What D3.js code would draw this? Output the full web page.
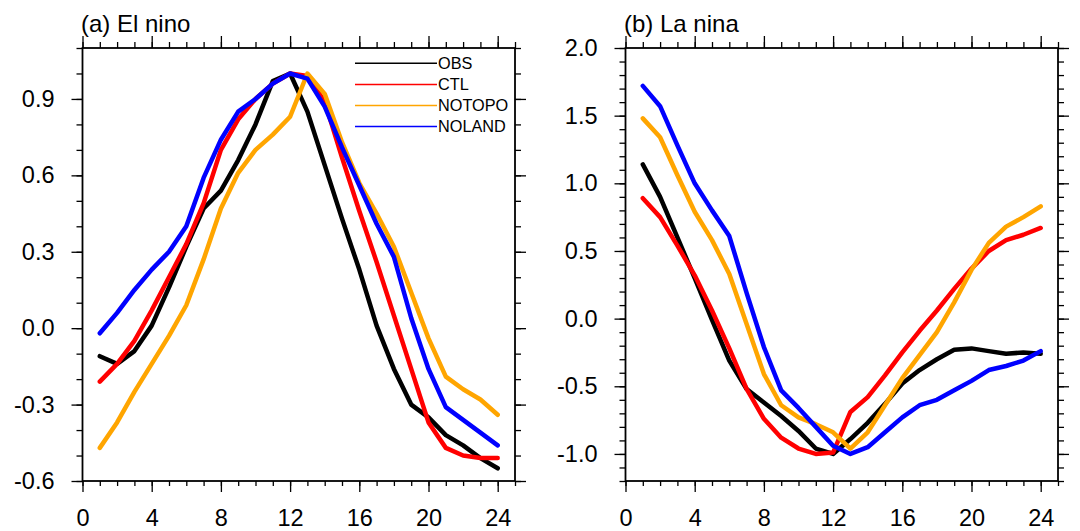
<!DOCTYPE html>
<html>
<head>
<meta charset="utf-8">
<script src="https://cdn.jsdelivr.net/npm/d3@7"></script>
<style>
  html, body { margin: 0; padding: 0; background: #fff; }
  svg { display: block; font-family: "Liberation Sans", Arial, Helvetica, sans-serif; }
</style>
</head>
<body>
<div id="chart"></div>
<script>
// months along the x axis
var months = [1,2,3,4,5,6,7,8,9,10,11,12,13,14,15,16,17,18,19,20,21,22,23,24];

// (a) El nino
var ninoObs    = [-0.11,-0.14,-0.09,0.01,0.16,0.32,0.47,0.54,0.66,0.80,0.97,1.00,0.85,0.64,0.43,0.23,0.01,-0.16,-0.30,-0.35,-0.42,-0.46,-0.51,-0.55];
var ninoCtl    = [-0.21,-0.14,-0.05,0.07,0.20,0.33,0.49,0.70,0.82,0.90,0.96,1.00,0.99,0.89,0.67,0.46,0.26,0.05,-0.16,-0.37,-0.47,-0.50,-0.51,-0.51];
var ninoNotopo = [-0.47,-0.37,-0.25,-0.14,-0.03,0.09,0.27,0.47,0.61,0.70,0.76,0.83,1.00,0.92,0.73,0.57,0.45,0.32,0.14,-0.04,-0.19,-0.24,-0.28,-0.34];
var ninoNoland = [-0.02,0.06,0.15,0.23,0.30,0.40,0.59,0.74,0.85,0.90,0.96,1.00,0.98,0.87,0.71,0.56,0.41,0.28,0.04,-0.16,-0.31,-0.36,-0.41,-0.46];

// (b) La nina
var ninaObs    = [1.14,0.90,0.60,0.30,-0.01,-0.31,-0.52,-0.62,-0.72,-0.83,-0.96,-1.00,-0.89,-0.77,-0.63,-0.48,-0.38,-0.30,-0.23,-0.22,-0.24,-0.26,-0.25,-0.26];
var ninaCtl    = [0.89,0.75,0.54,0.32,0.06,-0.22,-0.52,-0.74,-0.88,-0.96,-1.00,-0.99,-0.69,-0.58,-0.42,-0.25,-0.09,0.06,0.22,0.37,0.50,0.58,0.62,0.67];
var ninaNotopo = [1.48,1.34,1.06,0.79,0.58,0.33,-0.04,-0.41,-0.64,-0.73,-0.78,-0.84,-0.96,-0.84,-0.64,-0.44,-0.27,-0.10,0.12,0.36,0.56,0.68,0.75,0.83];
var ninaNoland = [1.72,1.57,1.28,1.00,0.80,0.61,0.19,-0.21,-0.53,-0.66,-0.80,-0.94,-1.00,-0.95,-0.84,-0.73,-0.64,-0.60,-0.53,-0.46,-0.38,-0.35,-0.31,-0.24];

var seriesNames  = ["OBS", "CTL", "NOTOPO", "NOLAND"];
var seriesColors = ["#000000", "#ff0000", "#ffa500", "#0000ff"];

// tick labels
var xTicks = [0, 4, 8, 12, 16, 20, 24];
var xLabels = ["0", "4", "8", "12", "16", "20", "24"];
var aTicks = [-0.6, -0.3, 0.0, 0.3, 0.6, 0.9];
var aLabels = ["-0.6", "-0.3", "0.0", "0.3", "0.6", "0.9"];
var bTicks = [-1.0, -0.5, 0.0, 0.5, 1.0, 1.5, 2.0];
var bLabels = ["-1.0", "-0.5", "0.0", "0.5", "1.0", "1.5", "2.0"];

var width = 1080, height = 531;

var svg = d3.select("#chart")
  .append("svg")
  .attr("width", width)
  .attr("height", height);

var panels = [
  { title: "(a) El nino", left: 82.5, yDomain: [-0.6, 1.1], ticks: aTicks, labels: aLabels,
    series: [ninoObs, ninoCtl, ninoNotopo, ninoNoland], legend: true },
  { title: "(b) La nina", left: 625.5, yDomain: [-1.2, 2.0], ticks: bTicks, labels: bLabels,
    series: [ninaObs, ninaCtl, ninaNotopo, ninaNoland], legend: false }
];

var plotTop = 48, plotBottom = 481, plotW = 432.5;

function range(a, b, step) {
  var out = [];
  for (var v = a; v <= b + 1e-9; v += step) out.push(Math.round(v * 10) / 10);
  return out;
}

panels.forEach(function(p) {
  var x = d3.scaleLinear().domain([0, 25]).range([p.left, p.left + plotW]);
  var y = d3.scaleLinear().domain(p.yDomain).range([plotBottom, plotTop]);

  var g = svg.append("g");

  var minorX = d3.range(0, 26);
  var minorY = range(p.yDomain[0], p.yDomain[1], 0.1);

  function styleAxis(sel) {
    sel.select(".domain").remove();
    sel.selectAll("line").attr("stroke", "#000").attr("stroke-width", 1.3);
    sel.selectAll("text").attr("font-size", 23.5).attr("fill", "#000")
      .attr("font-family", "Liberation Sans, Arial, sans-serif");
  }

  // minor ticks, all four sides
  g.append("g").attr("transform", "translate(0," + plotBottom + ")")
    .call(d3.axisBottom(x).tickValues(minorX).tickSize(5).tickFormat(""))
    .call(styleAxis);
  g.append("g").attr("transform", "translate(0," + plotTop + ")")
    .call(d3.axisTop(x).tickValues(minorX).tickSize(6).tickFormat(""))
    .call(styleAxis);
  g.append("g").attr("transform", "translate(" + x(0) + ",0)")
    .call(d3.axisLeft(y).tickValues(minorY).tickSize(6).tickFormat(""))
    .call(styleAxis);
  g.append("g").attr("transform", "translate(" + x(25) + ",0)")
    .call(d3.axisRight(y).tickValues(minorY).tickSize(6).tickFormat(""))
    .call(styleAxis);

  // major ticks
  g.append("g").attr("transform", "translate(0," + plotBottom + ")")
    .call(d3.axisBottom(x).tickValues(xTicks).tickSize(11).tickPadding(17)
      .tickFormat(function(d, i) { return xLabels[i]; }))
    .call(styleAxis);
  g.append("g").attr("transform", "translate(0," + plotTop + ")")
    .call(d3.axisTop(x).tickValues(xTicks).tickSize(12).tickFormat(""))
    .call(styleAxis);
  g.append("g").attr("transform", "translate(" + x(0) + ",0)")
    .call(d3.axisLeft(y).tickValues(p.ticks).tickSize(11).tickPadding(17)
      .tickFormat(function(d, i) { return p.labels[i]; }))
    .call(styleAxis);
  g.append("g").attr("transform", "translate(" + x(25) + ",0)")
    .call(d3.axisRight(y).tickValues(p.ticks).tickSize(11).tickFormat(""))
    .call(styleAxis);

  // frame
  g.append("rect")
    .attr("x", x(0)).attr("y", plotTop)
    .attr("width", x(25) - x(0)).attr("height", plotBottom - plotTop)
    .attr("fill", "none").attr("stroke", "#000").attr("stroke-width", 1.8);

  var line = d3.line()
    .x(function(d, i) { return x(months[i]); })
    .y(function(d) { return y(d); });

  p.series.forEach(function(s, k) {
    g.append("path")
      .datum(s)
      .attr("d", line)
      .attr("fill", "none")
      .attr("stroke", seriesColors[k])
      .attr("stroke-width", 4.5)
      .attr("stroke-linejoin", "round")
      .attr("stroke-linecap", "round");
  });

  g.append("text")
    .attr("x", x(0) - 1.5).attr("y", 31.5)
    .attr("font-size", 24)
    .text(p.title);

  if (p.legend) {
    var lg = g.append("g");
    seriesNames.forEach(function(name, k) {
      var ly = 63.3 + k * 21.1;
      lg.append("line")
        .attr("x1", 355).attr("x2", 437)
        .attr("y1", ly).attr("y2", ly)
        .attr("stroke", seriesColors[k]).attr("stroke-width", 1.5);
      lg.append("text")
        .attr("x", 438).attr("y", ly).attr("dy", "0.36em")
        .attr("font-size", 16.3)
        .text(name);
    });
  }
});
</script>
</body>
</html>
